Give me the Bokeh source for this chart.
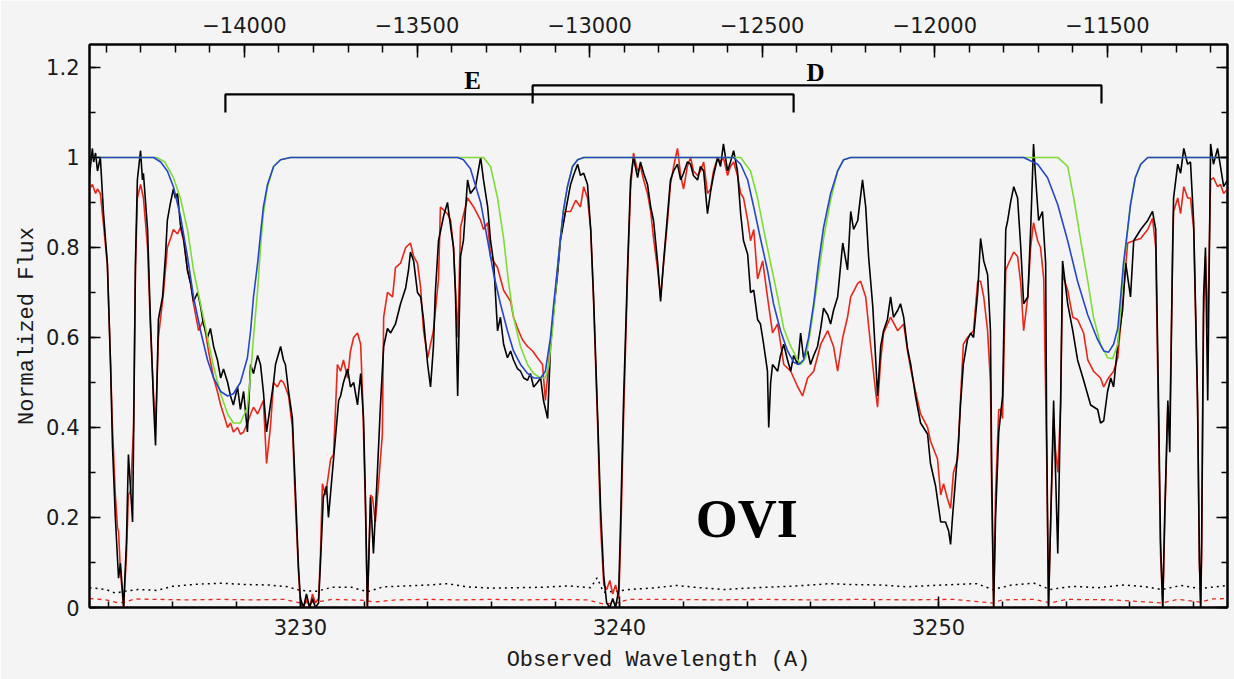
from bokeh.plotting import figure
from bokeh.models import (Range1d, LinearAxis, SingleIntervalTicker, CustomJSTickFormatter)
from bokeh.core.properties import value
from bokeh.embed import file_html
from bokeh.resources import INLINE

# ---------------- data ----------------
# observed spectrum (black): (wavelength A, normalized flux)
black_spec = [
    (3223.39, 0.96), (3223.48, 1.02), (3223.52, 0.99), (3223.58, 1.01), (3223.64, 0.97), (3223.73, 1.0),
    (3223.83, 0.875), (3223.95, 0.765), (3224.05, 0.54), (3224.11, 0.36), (3224.20, 0.20), (3224.30, 0.065),
    (3224.36, 0.098), (3224.46, 0.0), (3224.55, 0.15), (3224.61, 0.34), (3224.68, 0.26), (3224.74, 0.19),
    (3224.77, 0.36), (3224.83, 0.765), (3224.89, 0.95), (3224.99, 1.015), (3225.05, 0.95), (3225.08, 0.965),
    (3225.21, 0.84), (3225.30, 0.64), (3225.40, 0.45), (3225.46, 0.36), (3225.55, 0.64), (3225.68, 0.69),
    (3225.77, 0.78), (3225.83, 0.86), (3225.93, 0.90), (3226.02, 0.93), (3226.08, 0.91), (3226.15, 0.92),
    (3226.24, 0.85), (3226.34, 0.82), (3226.46, 0.75), (3226.56, 0.72), (3226.65, 0.68), (3226.78, 0.70),
    (3226.87, 0.67), (3226.96, 0.63), (3227.09, 0.60), (3227.18, 0.62), (3227.28, 0.58), (3227.40, 0.55),
    (3227.50, 0.51), (3227.59, 0.53), (3227.72, 0.50), (3227.81, 0.47), (3227.90, 0.45), (3228.03, 0.49),
    (3228.12, 0.44), (3228.22, 0.48), (3228.34, 0.39), (3228.44, 0.54), (3228.53, 0.52), (3228.66, 0.56),
    (3228.75, 0.54), (3228.84, 0.48), (3228.94, 0.39), (3229.06, 0.45), (3229.16, 0.50), (3229.22, 0.54),
    (3229.38, 0.58), (3229.47, 0.55), (3229.53, 0.54), (3229.63, 0.48), (3229.75, 0.42), (3229.85, 0.25),
    (3229.94, 0.09), (3230.00, 0.02), (3230.10, 0.0), (3230.19, 0.03), (3230.29, 0.0), (3230.38, 0.02),
    (3230.47, 0.0), (3230.57, 0.01), (3230.63, 0.10), (3230.72, 0.245), (3230.82, 0.27), (3230.88, 0.20),
    (3231.04, 0.33), (3231.20, 0.46), (3231.26, 0.47), (3231.35, 0.50), (3231.48, 0.53), (3231.57, 0.49),
    (3231.67, 0.50), (3231.79, 0.45), (3231.89, 0.52), (3231.98, 0.42), (3232.04, 0.24), (3232.10, 0.0),
    (3232.20, 0.245), (3232.29, 0.12), (3232.42, 0.31), (3232.51, 0.45), (3232.61, 0.58), (3232.73, 0.62),
    (3232.83, 0.61), (3232.98, 0.63), (3233.14, 0.675), (3233.30, 0.71), (3233.39, 0.75), (3233.45, 0.79),
    (3233.55, 0.77), (3233.67, 0.70), (3233.77, 0.69), (3233.86, 0.64), (3233.99, 0.54), (3234.08, 0.49),
    (3234.17, 0.58), (3234.23, 0.70), (3234.33, 0.815), (3234.49, 0.87), (3234.61, 0.90), (3234.71, 0.845),
    (3234.80, 0.80), (3234.86, 0.70), (3234.93, 0.47), (3235.02, 0.78), (3235.11, 0.815), (3235.24, 0.95),
    (3235.33, 0.92), (3235.49, 0.935), (3235.65, 1.0), (3235.74, 0.95), (3235.87, 0.89), (3235.96, 0.815),
    (3236.06, 0.765), (3236.18, 0.615), (3236.27, 0.645), (3236.37, 0.585), (3236.49, 0.555), (3236.59, 0.57),
    (3236.68, 0.55), (3236.81, 0.53), (3236.90, 0.525), (3237.00, 0.51), (3237.12, 0.505), (3237.21, 0.52),
    (3237.31, 0.49), (3237.43, 0.50), (3237.53, 0.51), (3237.62, 0.46), (3237.75, 0.42), (3237.84, 0.58),
    (3237.94, 0.66), (3238.06, 0.74), (3238.15, 0.815), (3238.31, 0.88), (3238.47, 0.94), (3238.56, 0.96),
    (3238.69, 0.985), (3238.78, 0.96), (3238.88, 0.965), (3239.00, 0.94), (3239.10, 0.84), (3239.19, 0.69),
    (3239.32, 0.42), (3239.41, 0.22), (3239.51, 0.07), (3239.60, 0.01), (3239.70, 0.0), (3239.79, 0.02),
    (3239.88, 0.0), (3239.98, 0.04), (3240.04, 0.20), (3240.13, 0.46), (3240.26, 0.765), (3240.35, 0.95),
    (3240.44, 1.0), (3240.57, 0.955), (3240.66, 0.99), (3240.76, 0.965), (3240.88, 0.94), (3240.98, 0.89),
    (3241.07, 0.86), (3241.20, 0.765), (3241.29, 0.68), (3241.38, 0.765), (3241.51, 0.875), (3241.60, 0.95),
    (3241.70, 0.97), (3241.82, 0.985), (3241.92, 0.95), (3242.01, 0.965), (3242.13, 0.99), (3242.23, 0.985),
    (3242.32, 0.96), (3242.45, 0.95), (3242.54, 0.98), (3242.64, 0.97), (3242.76, 0.875), (3242.86, 0.925),
    (3242.95, 0.96), (3243.08, 1.0), (3243.17, 0.98), (3243.26, 1.03), (3243.39, 0.97), (3243.48, 0.99),
    (3243.58, 1.015), (3243.70, 0.97), (3243.80, 0.875), (3243.89, 0.815), (3244.02, 0.785), (3244.11, 0.70),
    (3244.21, 0.705), (3244.33, 0.64), (3244.42, 0.63), (3244.52, 0.585), (3244.64, 0.525), (3244.68, 0.40),
    (3244.74, 0.50), (3244.80, 0.54), (3244.96, 0.525), (3245.05, 0.56), (3245.15, 0.585), (3245.27, 0.55),
    (3245.37, 0.525), (3245.46, 0.56), (3245.59, 0.54), (3245.68, 0.61), (3245.77, 0.555), (3245.90, 0.57),
    (3245.99, 0.54), (3246.09, 0.56), (3246.21, 0.58), (3246.31, 0.62), (3246.40, 0.665), (3246.53, 0.65),
    (3246.62, 0.63), (3246.71, 0.66), (3246.84, 0.69), (3247.00, 0.81), (3247.15, 0.75), (3247.25, 0.88),
    (3247.34, 0.84), (3247.47, 0.86), (3247.62, 0.95), (3247.72, 0.89), (3247.81, 0.78), (3247.94, 0.67),
    (3248.03, 0.555), (3248.09, 0.47), (3248.19, 0.58), (3248.28, 0.615), (3248.40, 0.64), (3248.50, 0.69),
    (3248.59, 0.645), (3248.72, 0.66), (3248.81, 0.675), (3248.91, 0.645), (3249.03, 0.575), (3249.13, 0.54),
    (3249.28, 0.47), (3249.44, 0.41), (3249.53, 0.40), (3249.66, 0.385), (3249.75, 0.32), (3249.91, 0.27),
    (3250.07, 0.19), (3250.22, 0.19), (3250.32, 0.17), (3250.38, 0.14), (3250.44, 0.20), (3250.53, 0.28),
    (3250.63, 0.37), (3250.69, 0.45), (3250.78, 0.54), (3250.91, 0.595), (3251.01, 0.61), (3251.10, 0.60),
    (3251.23, 0.70), (3251.32, 0.82), (3251.42, 0.77), (3251.54, 0.74), (3251.63, 0.615), (3251.67, 0.30),
    (3251.73, 0.0), (3251.79, 0.20), (3251.89, 0.39), (3252.01, 0.47), (3252.11, 0.84), (3252.17, 0.86),
    (3252.26, 0.90), (3252.36, 0.935), (3252.48, 0.91), (3252.58, 0.80), (3252.67, 0.675), (3252.80, 0.69),
    (3252.89, 0.84), (3252.98, 1.03), (3253.05, 0.95), (3253.14, 0.86), (3253.26, 0.88), (3253.36, 0.765),
    (3253.39, 0.40), (3253.45, 0.0), (3253.52, 0.20), (3253.61, 0.46), (3253.67, 0.30), (3253.74, 0.12),
    (3253.83, 0.46), (3253.89, 0.77), (3254.05, 0.675), (3254.21, 0.615), (3254.36, 0.55), (3254.55, 0.505),
    (3254.77, 0.45), (3254.99, 0.44), (3255.08, 0.41), (3255.18, 0.415), (3255.30, 0.48), (3255.40, 0.51),
    (3255.49, 0.49), (3255.62, 0.585), (3255.77, 0.66), (3255.87, 0.765), (3256.02, 0.69), (3256.12, 0.815),
    (3256.34, 0.84), (3256.56, 0.86), (3256.71, 0.88), (3256.81, 0.84), (3256.90, 0.45), (3256.96, 0.15),
    (3257.03, 0.0), (3257.09, 0.20), (3257.19, 0.46), (3257.25, 0.345), (3257.34, 0.80), (3257.37, 0.91),
    (3257.50, 0.985), (3257.59, 0.965), (3257.69, 1.02), (3257.81, 0.985), (3257.90, 0.99), (3258.00, 0.855),
    (3258.12, 0.47), (3258.18, 0.10), (3258.22, 0.0), (3258.25, 0.15), (3258.31, 0.69), (3258.37, 0.80),
    (3258.44, 0.46), (3258.53, 1.03), (3258.62, 0.985), (3258.75, 1.02), (3258.84, 0.98), (3258.94, 0.935),
    (3259.06, 0.95),
]

# second observed spectrum (red)
red_spec = [
    (3223.39, 0.93), (3223.48, 0.94), (3223.58, 0.92), (3223.64, 0.93), (3223.73, 0.92), (3223.83, 0.85),
    (3223.95, 0.76), (3224.05, 0.54), (3224.11, 0.40), (3224.20, 0.25), (3224.27, 0.175), (3224.30, 0.17),
    (3224.36, 0.08), (3224.46, 0.0), (3224.55, 0.12), (3224.61, 0.25), (3224.68, 0.26), (3224.77, 0.40),
    (3224.83, 0.75), (3224.89, 0.91), (3224.99, 0.94), (3225.08, 0.91), (3225.21, 0.80), (3225.30, 0.62),
    (3225.40, 0.47), (3225.46, 0.40), (3225.55, 0.60), (3225.71, 0.70), (3225.83, 0.80), (3225.93, 0.82),
    (3226.02, 0.84), (3226.15, 0.83), (3226.24, 0.845), (3226.34, 0.815), (3226.46, 0.75), (3226.56, 0.72),
    (3226.65, 0.675), (3226.81, 0.615), (3226.96, 0.64), (3227.12, 0.57), (3227.28, 0.51), (3227.40, 0.48),
    (3227.50, 0.45), (3227.59, 0.43), (3227.72, 0.40), (3227.81, 0.41), (3227.90, 0.39), (3228.03, 0.40),
    (3228.12, 0.385), (3228.22, 0.39), (3228.34, 0.41), (3228.44, 0.43), (3228.53, 0.445), (3228.66, 0.43),
    (3228.75, 0.445), (3228.84, 0.46), (3228.94, 0.32), (3229.06, 0.40), (3229.16, 0.50), (3229.28, 0.49),
    (3229.38, 0.505), (3229.47, 0.50), (3229.53, 0.49), (3229.63, 0.47), (3229.75, 0.40), (3229.85, 0.22),
    (3229.94, 0.08), (3230.00, 0.01), (3230.10, 0.0), (3230.19, 0.02), (3230.29, 0.0), (3230.38, 0.03),
    (3230.47, 0.01), (3230.57, 0.02), (3230.63, 0.12), (3230.69, 0.275), (3230.79, 0.25), (3230.95, 0.33),
    (3231.04, 0.34), (3231.16, 0.54), (3231.26, 0.525), (3231.35, 0.55), (3231.48, 0.51), (3231.57, 0.57),
    (3231.67, 0.60), (3231.79, 0.61), (3231.89, 0.585), (3231.95, 0.47), (3232.04, 0.22), (3232.10, 0.0),
    (3232.20, 0.25), (3232.26, 0.245), (3232.35, 0.19), (3232.45, 0.275), (3232.57, 0.385), (3232.61, 0.645),
    (3232.73, 0.70), (3232.89, 0.69), (3232.98, 0.755), (3233.14, 0.765), (3233.30, 0.80), (3233.45, 0.81),
    (3233.55, 0.78), (3233.67, 0.765), (3233.77, 0.71), (3233.86, 0.615), (3233.99, 0.555), (3234.17, 0.615),
    (3234.33, 0.73), (3234.39, 0.89), (3234.61, 0.875), (3234.71, 0.86), (3234.80, 0.80), (3234.93, 0.60),
    (3235.02, 0.845), (3235.24, 0.91), (3235.43, 0.89), (3235.65, 0.86), (3235.74, 0.84), (3235.87, 0.855),
    (3235.96, 0.78), (3236.18, 0.755), (3236.37, 0.705), (3236.59, 0.68), (3236.68, 0.645), (3236.81, 0.62),
    (3236.96, 0.595), (3237.12, 0.58), (3237.28, 0.57), (3237.43, 0.555), (3237.59, 0.54), (3237.68, 0.46),
    (3237.78, 0.54), (3237.90, 0.63), (3238.06, 0.75), (3238.15, 0.82), (3238.31, 0.88), (3238.47, 0.88),
    (3238.63, 0.905), (3238.78, 0.89), (3238.88, 0.935), (3239.00, 0.91), (3239.10, 0.84), (3239.19, 0.68),
    (3239.32, 0.40), (3239.41, 0.18), (3239.51, 0.05), (3239.60, 0.04), (3239.70, 0.06), (3239.79, 0.03),
    (3239.88, 0.05), (3239.98, 0.02), (3240.04, 0.15), (3240.13, 0.42), (3240.26, 0.75), (3240.35, 0.93),
    (3240.44, 1.01), (3240.57, 0.97), (3240.66, 0.98), (3240.76, 0.95), (3240.88, 0.92), (3240.98, 0.88),
    (3241.07, 0.82), (3241.20, 0.75), (3241.29, 0.69), (3241.38, 0.76), (3241.51, 0.86), (3241.60, 0.94),
    (3241.70, 0.98), (3241.82, 1.02), (3241.92, 0.96), (3242.01, 0.93), (3242.13, 0.98), (3242.23, 1.0),
    (3242.32, 0.97), (3242.45, 0.96), (3242.54, 0.97), (3242.64, 0.99), (3242.76, 0.92), (3242.86, 0.93),
    (3242.95, 0.97), (3243.08, 1.0), (3243.17, 0.99), (3243.26, 1.0), (3243.39, 0.96), (3243.48, 0.98),
    (3243.58, 0.99), (3243.70, 0.96), (3243.80, 0.92), (3243.89, 0.91), (3244.02, 0.86), (3244.11, 0.815),
    (3244.21, 0.84), (3244.33, 0.73), (3244.49, 0.77), (3244.64, 0.69), (3244.80, 0.61), (3244.96, 0.63),
    (3245.15, 0.54), (3245.37, 0.525), (3245.59, 0.49), (3245.74, 0.47), (3245.90, 0.51), (3246.09, 0.525),
    (3246.31, 0.585), (3246.53, 0.615), (3246.71, 0.58), (3246.84, 0.525), (3247.00, 0.60), (3247.15, 0.645),
    (3247.25, 0.69), (3247.47, 0.72), (3247.56, 0.725), (3247.72, 0.69), (3247.87, 0.585), (3248.03, 0.48),
    (3248.09, 0.445), (3248.19, 0.55), (3248.28, 0.61), (3248.50, 0.645), (3248.72, 0.615), (3248.91, 0.63),
    (3249.03, 0.57), (3249.13, 0.53), (3249.28, 0.48), (3249.44, 0.43), (3249.66, 0.40), (3249.75, 0.37),
    (3249.97, 0.33), (3250.07, 0.25), (3250.16, 0.275), (3250.29, 0.24), (3250.38, 0.22), (3250.47, 0.30),
    (3250.60, 0.33), (3250.69, 0.46), (3250.78, 0.585), (3250.91, 0.60), (3251.10, 0.615), (3251.23, 0.725),
    (3251.32, 0.725), (3251.42, 0.69), (3251.54, 0.615), (3251.63, 0.50), (3251.67, 0.25), (3251.73, 0.0),
    (3251.79, 0.25), (3251.89, 0.44), (3251.95, 0.44), (3252.01, 0.42), (3252.11, 0.75), (3252.20, 0.765),
    (3252.36, 0.79), (3252.48, 0.78), (3252.58, 0.72), (3252.67, 0.615), (3252.80, 0.69), (3252.89, 0.80),
    (3252.98, 0.855), (3253.11, 0.815), (3253.20, 0.80), (3253.30, 0.73), (3253.39, 0.35), (3253.45, 0.0),
    (3253.52, 0.20), (3253.61, 0.42), (3253.67, 0.35), (3253.74, 0.30), (3253.83, 0.45), (3253.89, 0.74),
    (3254.05, 0.705), (3254.21, 0.645), (3254.36, 0.64), (3254.55, 0.61), (3254.68, 0.55), (3254.86, 0.525),
    (3255.08, 0.51), (3255.18, 0.49), (3255.33, 0.51), (3255.49, 0.525), (3255.62, 0.555), (3255.77, 0.675),
    (3255.93, 0.81), (3256.12, 0.815), (3256.34, 0.82), (3256.56, 0.84), (3256.71, 0.865), (3256.81, 0.80),
    (3256.90, 0.40), (3256.96, 0.12), (3257.03, 0.0), (3257.09, 0.18), (3257.19, 0.45), (3257.25, 0.40),
    (3257.34, 0.78), (3257.37, 0.88), (3257.50, 0.91), (3257.59, 0.875), (3257.69, 0.935), (3257.81, 0.91),
    (3257.90, 0.91), (3258.00, 0.84), (3258.12, 0.45), (3258.18, 0.10), (3258.22, 0.0), (3258.25, 0.12),
    (3258.31, 0.65), (3258.37, 0.78), (3258.44, 0.62), (3258.53, 0.95), (3258.62, 0.955), (3258.75, 0.935),
    (3258.84, 0.94), (3258.94, 0.92), (3259.06, 0.93),
]

# model fit (blue)
blue_model = [
    (3223.39, 1.0), (3225.40, 1.0), (3225.62, 0.99), (3225.83, 0.97), (3226.02, 0.935), (3226.24, 0.87),
    (3226.46, 0.78), (3226.65, 0.69), (3226.87, 0.615), (3227.09, 0.55), (3227.28, 0.51), (3227.50, 0.48),
    (3227.72, 0.47), (3227.90, 0.475), (3228.12, 0.50), (3228.34, 0.555), (3228.44, 0.615), (3228.53, 0.69),
    (3228.66, 0.765), (3228.75, 0.83), (3228.84, 0.89), (3228.97, 0.94), (3229.16, 0.98), (3229.38, 0.995),
    (3229.69, 1.0), (3234.93, 1.0), (3235.11, 0.995), (3235.33, 0.975), (3235.65, 0.90), (3235.87, 0.815),
    (3236.06, 0.74), (3236.27, 0.675), (3236.49, 0.615), (3236.68, 0.57), (3236.90, 0.54), (3237.12, 0.52),
    (3237.31, 0.51), (3237.53, 0.51), (3237.68, 0.525), (3237.84, 0.60), (3237.94, 0.675), (3238.06, 0.755),
    (3238.15, 0.82), (3238.24, 0.88), (3238.37, 0.935), (3238.53, 0.98), (3238.69, 0.995), (3238.88, 1.0),
    (3243.58, 1.0), (3243.80, 0.985), (3244.02, 0.95), (3244.21, 0.89), (3244.42, 0.82), (3244.64, 0.75),
    (3244.83, 0.675), (3245.05, 0.615), (3245.27, 0.57), (3245.46, 0.545), (3245.62, 0.54), (3245.77, 0.55),
    (3245.93, 0.60), (3246.09, 0.675), (3246.24, 0.765), (3246.40, 0.845), (3246.62, 0.92), (3246.84, 0.97),
    (3247.03, 0.995), (3247.25, 1.0), (3252.67, 1.0), (3253.11, 0.985), (3253.42, 0.955), (3253.74, 0.895),
    (3254.05, 0.815), (3254.36, 0.725), (3254.68, 0.65), (3254.99, 0.595), (3255.18, 0.57), (3255.33, 0.567),
    (3255.49, 0.585), (3255.62, 0.62), (3255.71, 0.69), (3255.80, 0.765), (3255.93, 0.84), (3256.02, 0.895),
    (3256.17, 0.955), (3256.34, 0.985), (3256.56, 1.0), (3259.06, 1.0),
]

# model fit (green)
green_model = [
    (3223.39, 1.0), (3225.50, 1.0), (3225.75, 0.99), (3226.02, 0.955), (3226.24, 0.91), (3226.46, 0.84),
    (3226.65, 0.75), (3226.87, 0.675), (3227.09, 0.60), (3227.28, 0.535), (3227.50, 0.475), (3227.72, 0.43),
    (3227.90, 0.41), (3228.12, 0.41), (3228.34, 0.445), (3228.44, 0.52), (3228.53, 0.60), (3228.66, 0.705),
    (3228.75, 0.80), (3228.84, 0.875), (3228.97, 0.935), (3229.16, 0.98), (3229.38, 0.995), (3229.69, 1.0),
    (3235.74, 1.0), (3235.96, 0.98), (3236.18, 0.91), (3236.37, 0.82), (3236.52, 0.725), (3236.68, 0.645),
    (3236.90, 0.58), (3237.12, 0.54), (3237.31, 0.52), (3237.53, 0.51), (3237.68, 0.51), (3237.78, 0.535),
    (3237.90, 0.615), (3238.06, 0.755), (3238.15, 0.82), (3238.24, 0.88), (3238.37, 0.935), (3238.53, 0.98),
    (3238.69, 0.995), (3238.88, 1.0), (3243.80, 1.0), (3244.11, 0.97), (3244.33, 0.91), (3244.52, 0.84),
    (3244.74, 0.765), (3244.96, 0.69), (3245.15, 0.62), (3245.37, 0.58), (3245.59, 0.55), (3245.68, 0.54),
    (3245.84, 0.555), (3245.99, 0.615), (3246.21, 0.725), (3246.40, 0.82), (3246.62, 0.905), (3246.84, 0.97),
    (3247.03, 0.995), (3247.25, 1.0), (3253.74, 1.0), (3254.05, 0.98), (3254.24, 0.91), (3254.46, 0.815),
    (3254.68, 0.725), (3254.86, 0.645), (3255.08, 0.585), (3255.30, 0.555), (3255.46, 0.553), (3255.62, 0.585),
    (3255.71, 0.66), (3255.80, 0.75), (3255.93, 0.84), (3256.02, 0.895), (3256.17, 0.955), (3256.34, 0.985),
    (3256.56, 1.0), (3259.06, 1.0),
]

# error spectra
black_err = [
    (3223.39, 0.044), (3223.9, 0.040), (3224.2, 0.032), (3224.5, 0.036), (3224.9, 0.040), (3225.5, 0.038),
    (3226.0, 0.047), (3226.8, 0.052), (3227.5, 0.054), (3228.3, 0.051), (3229.0, 0.050), (3229.6, 0.046),
    (3230.0, 0.038), (3230.5, 0.036), (3231.0, 0.045), (3231.6, 0.045), (3232.1, 0.035), (3232.6, 0.046),
    (3233.3, 0.048), (3234.0, 0.050), (3234.6, 0.053), (3235.2, 0.046), (3236.0, 0.043), (3236.8, 0.044),
    (3237.6, 0.045), (3238.4, 0.048), (3239.1, 0.044), (3239.3, 0.066), (3239.5, 0.034), (3239.9, 0.036),
    (3240.3, 0.040), (3241.0, 0.043), (3241.8, 0.049), (3242.5, 0.044), (3243.3, 0.040), (3244.0, 0.043),
    (3245.0, 0.046), (3245.8, 0.049), (3246.6, 0.053), (3247.3, 0.051), (3248.2, 0.050), (3249.0, 0.046),
    (3249.8, 0.049), (3250.5, 0.051), (3251.2, 0.053), (3251.7, 0.040), (3252.3, 0.050), (3253.0, 0.054),
    (3253.5, 0.040), (3254.2, 0.047), (3255.0, 0.044), (3255.8, 0.050), (3256.5, 0.046), (3257.0, 0.040),
    (3257.6, 0.049), (3258.2, 0.042), (3259.06, 0.049),
]
red_err = [
    (3223.39, 0.020), (3223.9, 0.017), (3224.3, 0.010), (3224.5, 0.012), (3224.8, 0.019), (3225.5, 0.018),
    (3226.5, 0.017), (3227.5, 0.018), (3228.5, 0.017), (3229.5, 0.018), (3230.0, 0.010), (3230.5, 0.012),
    (3231.0, 0.018), (3232.0, 0.016), (3232.3, 0.012), (3233.0, 0.017), (3234.0, 0.018), (3235.0, 0.017),
    (3236.0, 0.018), (3237.0, 0.017), (3238.0, 0.018), (3239.0, 0.017), (3239.5, 0.008), (3239.9, 0.010),
    (3240.3, 0.018), (3241.5, 0.018), (3243.0, 0.017), (3244.5, 0.018), (3246.0, 0.017), (3247.5, 0.018),
    (3249.0, 0.017), (3250.5, 0.018), (3251.7, 0.010), (3252.0, 0.017), (3253.0, 0.018), (3253.5, 0.010),
    (3254.0, 0.018), (3255.5, 0.017), (3257.0, 0.010), (3257.5, 0.018), (3258.2, 0.012), (3258.6, 0.019),
    (3259.06, 0.020),
]

# O VI doublet markers (component, blue member, red member)
marker_names = ["E", "D"]
marker_wl_1031 = [3227.65, 3237.28]
marker_wl_1037 = [3245.46, 3255.11]

x_limits = [3223.39, 3259.06]       # observed wavelength (A)
vel_limits = [-14449, -11152]       # velocity (km/s) on top axis
y_limits = [0.0, 1.251]

# ---------------- plot ----------------
BG = "#f4f4f4"
TICK_FONT = "DejaVu Sans"
LABEL_FONT = "Liberation Mono"

p = figure(width=1234, height=679, output_backend="svg", toolbar_location=None,
           x_range=Range1d(*x_limits), y_range=Range1d(*y_limits),
           min_border_left=89, min_border_right=7, min_border_top=44, min_border_bottom=72)
p.background_fill_color = BG
p.border_fill_color = BG
p.outline_line_color = "black"
p.outline_line_width = 2
p.xgrid.visible = False
p.ygrid.visible = False
p.extra_x_ranges = {"vel": Range1d(*vel_limits)}


def style_axis(ax, major_in, minor_in):
    ax.major_tick_in = major_in
    ax.major_tick_out = 0
    ax.minor_tick_in = minor_in
    ax.minor_tick_out = 0
    ax.axis_line_color = "black"
    ax.axis_line_width = 2
    ax.major_tick_line_color = "black"
    ax.minor_tick_line_color = "black"
    ax.major_tick_line_width = 1.5
    ax.minor_tick_line_width = 1.5
    ax.major_label_text_font = TICK_FONT
    ax.major_label_text_font_size = "21px"
    ax.major_label_text_color = "#1a1a1a"
    ax.axis_label_text_font = LABEL_FONT
    ax.axis_label_text_font_size = "22px"
    ax.axis_label_text_font_style = "normal"
    ax.axis_label_text_color = "#1a1a1a"


xa = p.xaxis[0]
xa.ticker = SingleIntervalTicker(interval=10, num_minor_ticks=5)
xa.axis_label = "Observed Wavelength (A)"
style_axis(xa, 11, 6)
xa.major_label_standoff = 11
xa.axis_label_standoff = 10

ya = p.yaxis[0]
ya.ticker = SingleIntervalTicker(interval=0.2, num_minor_ticks=2)
ya.formatter = CustomJSTickFormatter(code="return tick.toFixed(1).replace(/\\.0$/, '');")
ya.axis_label = "Normalized Flux"
style_axis(ya, 11, 6)
ya.major_label_standoff = 10
ya.axis_label_standoff = 3

top = LinearAxis(x_range_name="vel",
                 ticker=SingleIntervalTicker(interval=500, num_minor_ticks=5),
                 formatter=CustomJSTickFormatter(
                     code="return (tick < 0 ? '\\u2212' : '') + Math.abs(Math.round(tick));"))
style_axis(top, 13, 8)
top.major_label_standoff = 12
p.add_layout(top, "above")

right = LinearAxis(ticker=SingleIntervalTicker(interval=0.2, num_minor_ticks=2),
                   formatter=CustomJSTickFormatter(code="return '';"))
style_axis(right, 11, 6)
right.major_label_standoff = 0
p.add_layout(right, "right")

# error spectra
p.line([w for w, f in black_err], [f for w, f in black_err], line_color="black",
       line_width=1.5, line_dash="2 4")
p.line([w for w, f in red_err], [f for w, f in red_err], line_color="#e8261a",
       line_width=1.3, line_dash="4 4")

# spectra
p.line([w for w, f in red_spec], [f for w, f in red_spec], line_color="#e8261a", line_width=1.6)
p.line([w for w, f in black_spec], [f for w, f in black_spec], line_color="black", line_width=1.6)

# models
p.line([w for w, f in green_model], [f for w, f in green_model], line_color="#7ddc36", line_width=1.6)
p.line([w for w, f in blue_model], [f for w, f in blue_model], line_color="#2646c8", line_width=1.6)

# doublet markers
bracket_top = [1.14, 1.16]
bracket_drop = 0.04
for name, w1, w2, yt in zip(marker_names, marker_wl_1031, marker_wl_1037, bracket_top):
    p.line([w1, w1, w2, w2], [yt - bracket_drop, yt, yt, yt - bracket_drop],
           line_color="black", line_width=2.2)

label_wl = [3235.40, 3246.15]
label_y = [1.170, 1.189]
p.text(x=label_wl, y=label_y, text=marker_names, text_font=value("Liberation Serif"),
       text_font_style="bold", text_font_size="25px", text_align="center",
       text_baseline="alphabetic", text_color="black")

p.text(x=[3243.99], y=[0.196], text=["OVI"], text_font=value("Liberation Serif"),
       text_font_style="bold", text_font_size="54px", text_align="center",
       text_baseline="alphabetic", text_color="black")

open("out.html", "w").write(file_html(p, INLINE))
